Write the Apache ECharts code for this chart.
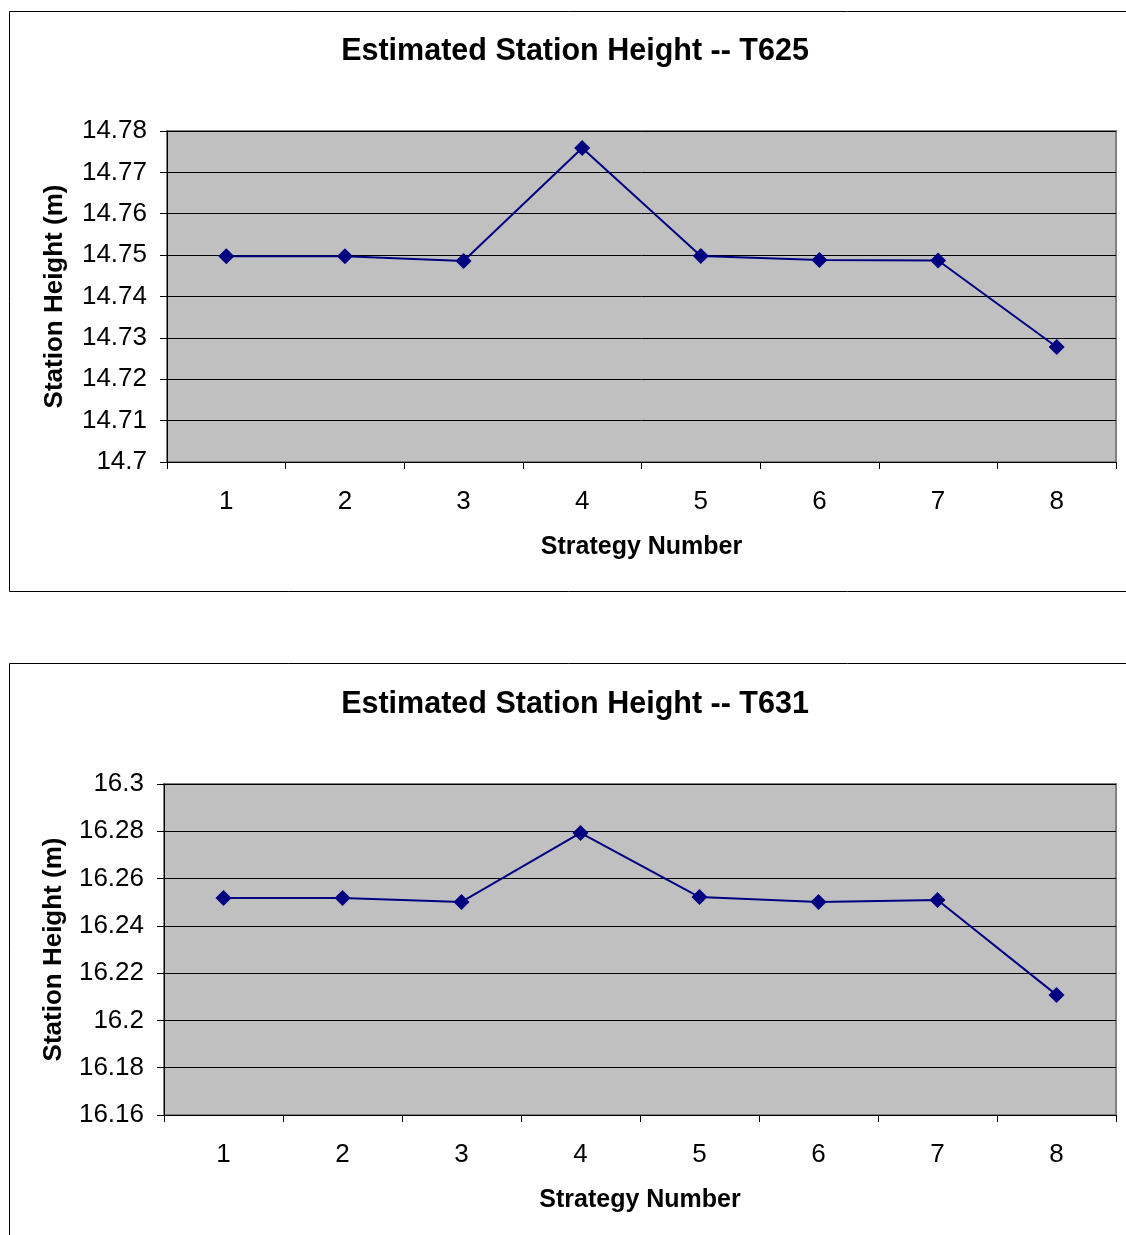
<!DOCTYPE html>
<html>
<head>
<meta charset="utf-8">
<script src="https://cdn.jsdelivr.net/npm/echarts@6/dist/echarts.min.js"></script>
<style>
  html, body { margin: 0; padding: 0; background: #fff; }
  #chart { width: 1126px; height: 1235px; }
</style>
</head>
<body>
<div id="chart"></div>
<script>
// Data
const strategies = ['1', '2', '3', '4', '5', '6', '7', '8'];
const heightT625 = [14.7497, 14.7497, 14.7486, 14.7759, 14.7498, 14.7488, 14.7487, 14.7278];
const heightT631 = [16.2518, 16.2518, 16.2501, 16.2793, 16.2522, 16.2501, 16.2509, 16.2108];
const titles = ['Estimated Station Height -- T625', 'Estimated Station Height -- T631'];
const yRanges = [
    { min: 14.7, max: 14.78, interval: 0.01 },
    { min: 16.16, max: 16.3, interval: 0.02 }
];

const font = 'Liberation Sans, Arial, sans-serif';
const navy = '#000080';

const chart = echarts.init(document.getElementById('chart'));

function xAxisFor(gridIndex) {
    return {
        type: 'category',
        gridIndex: gridIndex,
        data: strategies,
        boundaryGap: true,
        name: 'Strategy Number',
        nameLocation: 'middle',
        nameGap: 73,
        nameTextStyle: { fontFamily: font, fontSize: 25, fontWeight: 'bold', color: '#000' },
        axisLine: { lineStyle: { color: '#000', width: 1 } },
        axisTick: { show: true, alignWithLabel: false, length: 7, lineStyle: { color: '#000' } },
        axisLabel: { fontFamily: font, fontSize: 26, color: '#000', margin: 27 },
        splitLine: { show: false }
    };
}

function yAxisFor(gridIndex) {
    const r = yRanges[gridIndex];
    return {
        type: 'value',
        gridIndex: gridIndex,
        min: r.min,
        max: r.max,
        interval: r.interval,
        name: 'Station Height (m)',
        nameLocation: 'middle',
        nameGap: gridIndex === 0 ? 99 : 97,
        nameTextStyle: { fontFamily: font, fontSize: 26, fontWeight: 'bold', color: '#000' },
        axisLine: { show: true, lineStyle: { color: '#000', width: 1 } },
        axisTick: { show: true, length: 7, lineStyle: { color: '#000' } },
        axisLabel: { fontFamily: font, fontSize: 26, color: '#000', margin: 20 },
        splitLine: { show: true, lineStyle: { color: '#000', width: 1 } }
    };
}

function seriesFor(gridIndex, data) {
    return {
        type: 'line',
        xAxisIndex: gridIndex,
        yAxisIndex: gridIndex,
        data: data,
        symbol: 'diamond',
        symbolSize: 16,
        lineStyle: { color: navy, width: 2 },
        itemStyle: { color: navy },
        emphasis: { disabled: true }
    };
}

const option = {
    animation: false,
    backgroundColor: '#fff',
    title: [
        {
            text: titles[0], left: 570, top: 31, textAlign: 'center',
            textStyle: { fontFamily: font, fontSize: 30.5, fontWeight: 'bold', color: '#000' }
        },
        {
            text: titles[1], left: 570, top: 684, textAlign: 'center',
            textStyle: { fontFamily: font, fontSize: 30.5, fontWeight: 'bold', color: '#000' }
        }
    ],
    grid: [
        {
            left: 167, top: 131, width: 949, height: 331,
            show: true, backgroundColor: '#c0c0c0', borderColor: '#808080', borderWidth: 2
        },
        {
            left: 164, top: 784, width: 952, height: 331,
            show: true, backgroundColor: '#c0c0c0', borderColor: '#808080', borderWidth: 2
        }
    ],
    xAxis: [xAxisFor(0), xAxisFor(1)],
    yAxis: [yAxisFor(0), yAxisFor(1)],
    series: [seriesFor(0, heightT625), seriesFor(1, heightT631)],
    graphic: [
        {
            type: 'rect', z: -10, silent: true,
            shape: { x: 9.5, y: 11.5, width: 1130, height: 580 },
            style: { fill: null, stroke: '#000', lineWidth: 1 }
        },
        {
            type: 'rect', z: -10, silent: true,
            shape: { x: 9.5, y: 663.5, width: 1130, height: 600 },
            style: { fill: null, stroke: '#000', lineWidth: 1 }
        }
    ]
};

chart.setOption(option);
</script>
</body>
</html>
